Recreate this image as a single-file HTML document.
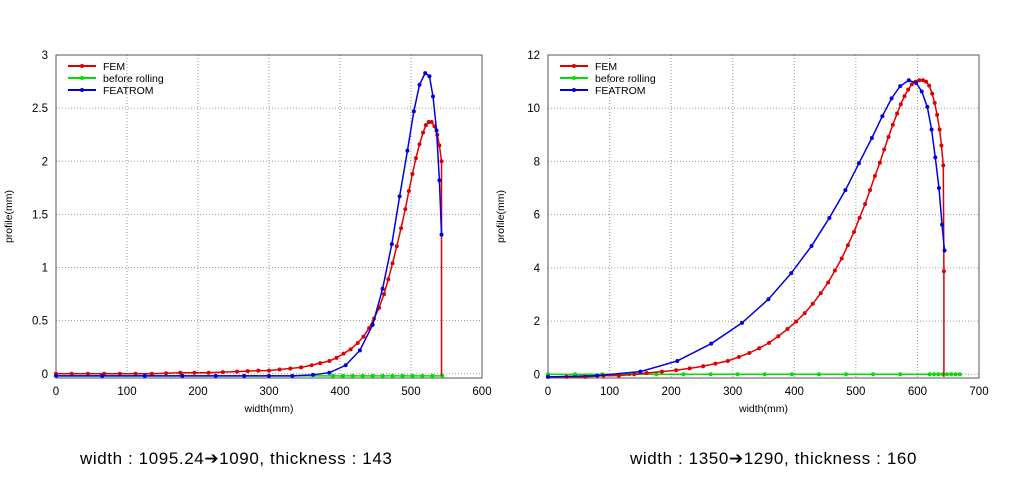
<!DOCTYPE html>
<html><head><meta charset="utf-8"><style>
body{margin:0;width:1009px;height:481px;background:#fff;overflow:hidden;font-family:"Liberation Sans",Arial,sans-serif}
.cap{position:absolute;top:449px;font-size:17px;color:#000;letter-spacing:0.6px}
.ar{font-family:"DejaVu Sans",sans-serif;font-size:17px}
</style></head><body>
<svg id="s" width="1009" height="481" xmlns="http://www.w3.org/2000/svg" style="position:absolute;left:0;top:0"></svg>
<div class="cap" style="left:80px">width : 1095.24<span class="ar">➔</span>1090, thickness : 143</div>
<div class="cap" style="left:630px">width : 1350<span class="ar">➔</span>1290, thickness : 160</div>
<script>
const s=document.getElementById('s');let h='';
function chart(o){
 const {x0,x1,y0,y1,xmax,ymin,ymax,xt,yt,series}=o;
 const X=v=>x0+(v/xmax)*(x1-x0), Y=v=>y1-(v-ymin)/(ymax-ymin)*(y1-y0);
 xt.forEach(t=>{const x=X(t);if(t>0&&t<xmax)h+=`<line x1="${x}" y1="${y0}" x2="${x}" y2="${y1}" stroke="#999" stroke-dasharray="1,2" stroke-width="1"/>`;
  h+=`<text x="${x}" y="${y1+17}" font-size="11.5" text-anchor="middle">${t}</text>`;});
 yt.forEach(t=>{const y=Y(t);if(t<yt[yt.length-1])h+=`<line x1="${x0}" y1="${y}" x2="${x1}" y2="${y}" stroke="#999" stroke-dasharray="1,2" stroke-width="1"/>`;
  h+=`<text x="${x0-8}" y="${y+4}" font-size="11.5" text-anchor="end">${t}</text>`;});
 h+=`<rect x="${x0}" y="${y0}" width="${x1-x0}" height="${y1-y0}" fill="none" stroke="#555" stroke-width="1"/>`;
 h+=`<text x="${(x0+x1)/2}" y="${y1+34}" font-size="10.5" text-anchor="middle">width(mm)</text>`;
 h+=`<text transform="translate(${x0-44},${(y0+y1)/2}) rotate(-90)" font-size="10.5" text-anchor="middle">profile(mm)</text>`;
 series.forEach(([c,pts,noMark])=>{
  h+=`<polyline fill="none" stroke="${c}" stroke-width="1.5" points="${pts.map(p=>X(p[0])+','+Y(p[1])).join(' ')}"/>`;
  pts.forEach((p,i)=>{if(!(noMark&&i==pts.length-1))h+=`<circle cx="${X(p[0])}" cy="${Y(p[1])}" r="2" fill="${c}"/>`;});
 });
 const L=[['#e00000','FEM'],['#00e000','before rolling'],['#0000e0','FEATROM']];
 L.forEach(([c,t],i)=>{const y=y0+11+i*12;
  h+=`<line x1="${x0+12}" y1="${y}" x2="${x0+40}" y2="${y}" stroke="${c}" stroke-width="2"/><circle cx="${x0+26}" cy="${y}" r="2" fill="${c}"/>`;
  h+=`<text x="${x0+47}" y="${y+4}" font-size="10.5">${t}</text>`;});
}
const femL=[[0,0],[22,0],[45,0],[68,0],[90,0],[112,0],[135,0],[155,.005],[175,.01],[195,.01],[215,.01],[235,.015],[255,.02],[270,.025],[285,.03],[300,.03],[315,.04],[330,.05],[345,.06],[360,.08],[372,.1],[385,.12],[395,.15],[405,.19],[415,.23],[425,.29],[433,.35],[441,.43],[448,.52],[455,.62],[462,.75],[468,.89],[474,1.04],[480,1.2],[486,1.37],[492,1.55],[497,1.72],[502,1.88],[507,2.03],[512,2.16],[517,2.27],[521,2.34],[525,2.37],[529,2.37],[533,2.33],[537,2.25],[540,2.15],[543,2.0],[543,-0.02]];
const blL=[[0,-.02],[65,-.02],[125,-.02],[178,-.02],[225,-.02],[265,-.02],[300,-.02],[333,-.02],[362,-.01],[385,.01],[408,.08],[428,.22],[446,.46],[460,.8],[473,1.22],[484,1.67],[495,2.1],[504,2.47],[512,2.72],[520,2.83],[526,2.8],[531,2.61],[536,2.29],[540,1.82],[543,1.31]];
const grL=[[0,-.02]];for(let x=390;x<=545;x+=14)grL.push([x,-.02]);
chart({x0:56,x1:482,y0:55,y1:378,xmax:600,ymin:-0.04,ymax:3,xt:[0,100,200,300,400,500,600],yt:[0,0.5,1,1.5,2,2.5,3],
 series:[['#00e000',grL],['#e00000',femL,1],['#0000e0',blL]]});
const blR=[[0,-.1],[80,-.05],[150,.1],[210,.5],[265,1.15],[315,1.93],[358,2.82],[395,3.8],[428,4.82],[457,5.88],[483,6.92],[505,7.93],[526,8.88],[543,9.7],[558,10.37],[572,10.83],[586,11.05],[598,10.95],[607,10.63],[616,10.05],[623,9.2],[629,8.15],[635,7.0],[640,5.62],[644,4.65]];
const femR=[[0,-.1],[30,-.1],[60,-.1],[90,-.05],[115,-.05],[140,0],[160,.05],[185,.1],[208,.15],[230,.22],[252,.3],[272,.4],[292,.5],[310,.65],[327,.8],[343,.98],[359,1.18],[374,1.43],[389,1.7],[403,1.98],[417,2.3],[430,2.65],[443,3.05],[455,3.45],[466,3.9],[477,4.35],[487,4.85],[497,5.35],[506,5.88],[515,6.4],[523,6.92],[531,7.45],[539,7.95],[546,8.45],[553,8.92],[560,9.38],[567,9.8],[573,10.15],[579,10.45],[585,10.7],[591,10.9],[597,11.0],[603,11.05],[609,11.05],[614,11.0],[619,10.85],[624,10.55],[628,10.2],[632,9.75],[636,9.2],[639,8.6],[642,7.85],[643,3.87],[643,-0.1]];
const grR=[];for(let x=0;x<=600;x+=44)grR.push([x,0]);for(let x=620;x<=675;x+=7)grR.push([x,0]);
chart({x0:548,x1:979,y0:55,y1:378,xmax:700,ymin:-0.14,ymax:12,xt:[0,100,200,300,400,500,600,700],yt:[0,2,4,6,8,10,12],
 series:[['#00e000',grR],['#e00000',femR,1],['#0000e0',blR]]});
s.innerHTML=h;
</script>
</body></html>
